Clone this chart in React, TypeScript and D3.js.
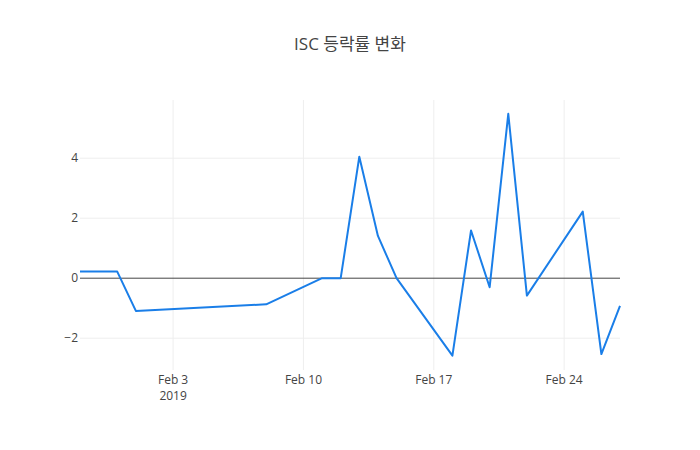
import * as d3 from "d3";

// 날짜별 등락률 (%)
const dates = [
  "2019-01-29", "2019-01-31", "2019-02-01", "2019-02-08", "2019-02-11",
  "2019-02-12", "2019-02-13", "2019-02-14", "2019-02-15", "2019-02-18",
  "2019-02-19", "2019-02-20", "2019-02-21", "2019-02-22", "2019-02-25",
  "2019-02-26", "2019-02-27",
];
const changes = [
  0.22, 0.22, -1.09, -0.87, 0, 0, 4.05, 1.41, 0, -2.58, 1.59, -0.3, 5.48,
  -0.58, 2.22, -2.53, -0.92,
];
const xTickDates = ["2019-02-03", "2019-02-10", "2019-02-17", "2019-02-24"];
const yTickValues = [-2, 0, 2, 4];
const yRange = [-3.06, 5.94];

const W = 700;
const H = 450;
const margin = { top: 100, right: 80, bottom: 80, left: 80 };
const font = '"Open Sans", verdana, arial, sans-serif';

export default function App() {
  const parse = d3.utcParse("%Y-%m-%d");
  const data = dates.map((d, i) => ({ date: parse(d)!, value: changes[i] }));
  const innerW = W - margin.left - margin.right;
  const innerH = H - margin.top - margin.bottom;

  const x = d3
    .scaleUtc()
    .domain(d3.extent(data, (d) => d.date) as [Date, Date])
    .range([0, innerW]);
  const y = d3.scaleLinear().domain(yRange).range([innerH, 0]);

  const line = d3
    .line<(typeof data)[0]>()
    .x((d) => x(d.date))
    .y((d) => y(d.value));

  const fmt = d3.utcFormat("%b %-d");

  return (
    <svg
      width={W}
      height={H}
      style={{ position: "absolute", left: 0, top: 0, background: "#fff" }}
    >
      <text
        x={W / 2}
        y={50}
        textAnchor="middle"
        fontFamily={`${font}, "Noto Sans CJK KR"`}
        fontSize={17}
        fill="#444"
      >
        ISC 등락률 변화
      </text>
      <g transform={`translate(${margin.left},${margin.top})`}>
        {/* 세로 그리드 */}
        {xTickDates.map((s, i) => {
          const d = parse(s)!;
          return (
            <g key={s} transform={`translate(${x(d)},0)`}>
              <line y1={0} y2={innerH} stroke="#eee" strokeWidth={1} />
              <text
                y={innerH + 14}
                textAnchor="middle"
                fontFamily={font}
                fontSize={12}
                fill="#444"
              >
                {fmt(d)}
              </text>
              {i === 0 && (
                <text
                  y={innerH + 30}
                  textAnchor="middle"
                  fontFamily={font}
                  fontSize={12}
                  fill="#444"
                >
                  {d.getUTCFullYear()}
                </text>
              )}
            </g>
          );
        })}
        {/* 가로 그리드 */}
        {yTickValues.map((v) => (
          <g key={v} transform={`translate(0,${y(v)})`}>
            {v !== 0 && (
              <line x1={0} x2={innerW} stroke="#eee" strokeWidth={1} />
            )}
            <text
              x={-2}
              dy="0.35em"
              textAnchor="end"
              fontFamily={font}
              fontSize={12}
              fill="#444"
            >
              {v < 0 ? `\u2212${Math.abs(v)}` : v}
            </text>
          </g>
        ))}
        <line
          x1={0}
          x2={innerW}
          y1={y(0)}
          y2={y(0)}
          stroke="#444"
          strokeWidth={1}
        />
        <path
          d={line(data) || ""}
          fill="none"
          stroke="#1a7ee8"
          strokeWidth={2}
          strokeLinejoin="round"
        />
      </g>
    </svg>
  );
}
